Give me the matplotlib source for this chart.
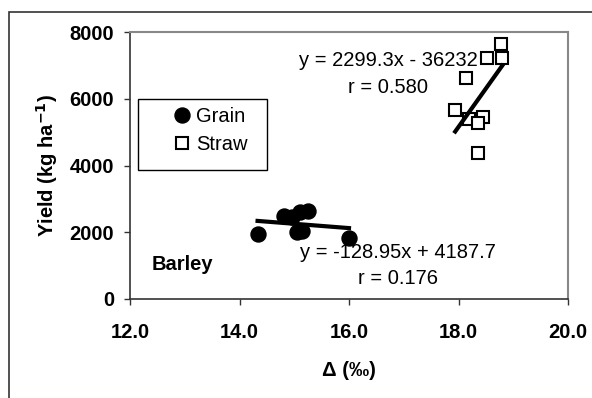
import matplotlib
matplotlib.use("Agg")
import matplotlib.pyplot as plt
from matplotlib.patches import Rectangle
import numpy as np

plt.rcParams['font.family'] = ['Liberation Sans', 'DejaVu Sans']

# grain yield vs carbon isotope discrimination
grain_x = [14.33, 14.82, 14.95, 15.10, 15.25, 15.05, 15.15, 16.00]
grain_y = [1950, 2500, 2450, 2600, 2650, 2000, 2050, 1830]

# straw yield
straw_x = [18.78, 18.52, 18.80, 18.14, 17.94, 18.44, 18.20, 18.36, 18.36]
straw_y = [7650, 7220, 7220, 6620, 5650, 5440, 5380, 5270, 4360]

# fitted lines shown on the chart
grain_fit = (-128.95, 4187.7)
straw_fit = (2299.3, -36232)

xticks = [12.0, 14.0, 16.0, 18.0, 20.0]
yticks = [0, 2000, 4000, 6000, 8000]

fs = 14.5

fig = plt.figure(figsize=(5.92, 3.98), dpi=100)
fig.patches.append(Rectangle((9 / 592, -0.1), 1.2, 1.1 - 12 / 398,
                             transform=fig.transFigure, fill=False,
                             edgecolor='#333333', linewidth=1.2))
ax = fig.add_axes([130 / 592, 1 - 299 / 398, 438 / 592, 267 / 398])

ax.plot(grain_x, grain_y, 'o', color='black', markersize=10.8, label='Grain', zorder=3)
ax.plot(straw_x, straw_y, 's', markerfacecolor='white', markeredgecolor='black',
        markeredgewidth=1.5, markersize=9, label='Straw', zorder=3)

gx = np.array([min(grain_x), max(grain_x)])
ax.plot(gx, grain_fit[0] * gx + grain_fit[1], color='black', linewidth=3, zorder=2)
sx = np.array([min(straw_x), max(straw_x)])
ax.plot(sx, straw_fit[0] * sx + straw_fit[1], color='black', linewidth=3, zorder=4)

ax.set_xlim(12, 20)
ax.set_ylim(0, 8000)
ax.set_xticks(xticks)
ax.set_xticklabels([f'{t:.1f}' for t in xticks], fontweight='bold', fontsize=fs)
ax.set_yticks(yticks)
ax.set_yticklabels([str(t) for t in yticks], fontweight='bold', fontsize=fs)
ax.tick_params(direction='out', length=4.5, width=1, colors='#333333', labelcolor='black')
ax.tick_params(axis='x', pad=12.5)
ax.tick_params(axis='y', pad=7)

for s in ['left', 'bottom']:
    ax.spines[s].set_color('#333333')
    ax.spines[s].set_linewidth(1.2)
for s in ['top', 'right']:
    ax.spines[s].set_color('#888888')
    ax.spines[s].set_linewidth(1.5)

ax.set_xlabel('Δ (‰)', fontweight='bold', fontsize=fs, labelpad=14)
ax.set_ylabel('Yield (kg ha$^{\\mathbf{-1}}$)', fontweight='bold', fontsize=fs, labelpad=7)

ax.text(16.72, 7160, 'y = 2299.3x - 36232', ha='center', va='center', fontsize=fs)
ax.text(16.72, 6350, 'r = 0.580', ha='center', va='center', fontsize=fs)
ax.text(16.89, 1408, 'y = -128.95x + 4187.7', ha='center', va='center', fontsize=fs)
ax.text(16.89, 629, 'r = 0.176', ha='center', va='center', fontsize=fs)
ax.text(12.40, 1019, 'Barley', fontweight='bold', fontsize=fs, va='center')

# legend box drawn by hand, entries placed inside it
ax.add_patch(Rectangle((8 / 438, 129 / 267), 129 / 438, 71 / 267, transform=ax.transAxes,
                       fill=True, facecolor='white', edgecolor='black', linewidth=1.0,
                       zorder=5))
leg = ax.legend(loc='upper left', bbox_to_anchor=(42 / 438, 1 - 75 / 267), frameon=False,
                fontsize=fs, handletextpad=0.2, handlelength=1.0, borderpad=0,
                labelspacing=0.45, borderaxespad=0)
leg.set_zorder(6)

fig.savefig('out.png', dpi=100)
